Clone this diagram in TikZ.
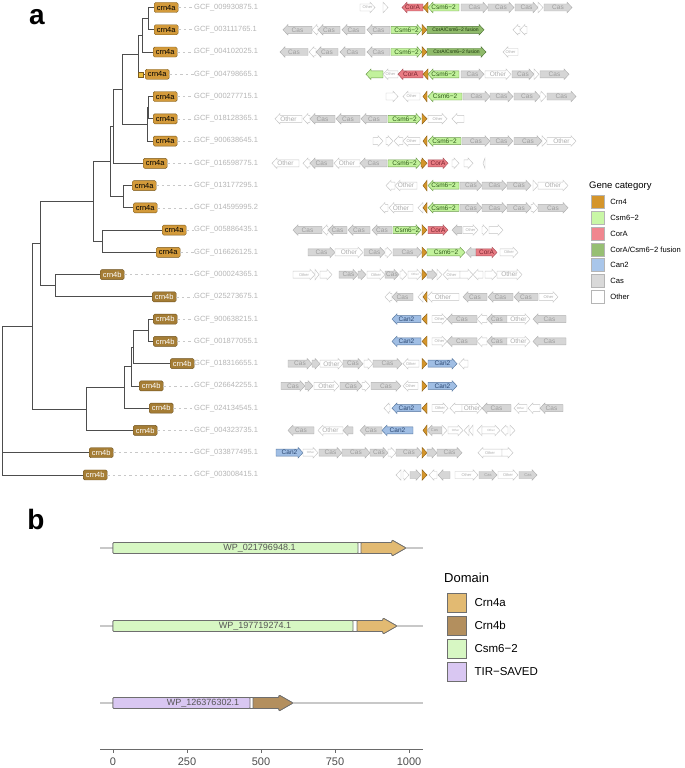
\documentclass[tikz,border=0pt]{standalone}
\usepackage{fontspec}
\setmainfont{Liberation Sans}
\usetikzlibrary{positioning}

\definecolor{treeline}{HTML}{4D4D4D}
\definecolor{leadline}{HTML}{C8C8C8}
\definecolor{acctext}{HTML}{B5B5B5}
\definecolor{crnafill}{HTML}{D39A3A}
\definecolor{crnaline}{HTML}{7A5A1E}
\definecolor{crnbfill}{HTML}{A57D35}
\definecolor{crnbline}{HTML}{6E5220}
\definecolor{tipfill}{HTML}{EBBE3C}
\definecolor{casfill}{HTML}{D6D6D6}
\definecolor{casline}{HTML}{B0B0B0}
\definecolor{castext}{HTML}{9C9C9C}
\definecolor{othline}{HTML}{C4C4C4}
\definecolor{othtext}{HTML}{ADADAD}
\definecolor{csmfill}{HTML}{C2F29C}
\definecolor{csmline}{HTML}{6C9A4C}
\definecolor{csmtext}{HTML}{2E5A18}
\definecolor{corafill}{HTML}{EA7C84}
\definecolor{coraline}{HTML}{A8505A}
\definecolor{coratext}{HTML}{7A2630}
\definecolor{crnfill}{HTML}{D4952B}
\definecolor{crnline}{HTML}{8A5E16}
\definecolor{fusfill}{HTML}{8FBA6A}
\definecolor{fusline}{HTML}{4C7432}
\definecolor{fustext}{HTML}{1E3A0E}
\definecolor{canfill}{HTML}{A0BEE4}
\definecolor{canline}{HTML}{56769E}
\definecolor{cantext}{HTML}{2A4670}
\definecolor{keyline}{HTML}{B5B5B5}
\definecolor{keycrn}{HTML}{D4952B}
\definecolor{keycsm}{HTML}{C9F7A6}
\definecolor{keycora}{HTML}{F0868F}
\definecolor{keyfus}{HTML}{97BF74}
\definecolor{keycan}{HTML}{A9C6EA}
\definecolor{keycas}{HTML}{D9D9D9}
\definecolor{dcrna}{HTML}{E2BA72}
\definecolor{dcrnb}{HTML}{B38F5E}
\definecolor{dcsm}{HTML}{D7F7C3}
\definecolor{dtir}{HTML}{D9C7F2}
\definecolor{dline}{HTML}{6E6E6E}
\definecolor{trackline}{HTML}{C8C8C8}
\definecolor{wptext}{HTML}{555555}
\definecolor{axisline}{HTML}{6A6A6A}
\definecolor{ticktext}{HTML}{4D4D4D}

\tikzstyle{branch} = [draw=treeline, line width=0.8pt]
\tikzstyle{lead} = [draw=leadline, line width=0.6pt, dash pattern=on 2.5pt off 3pt]
\tikzstyle{crna} = [draw=crnaline, fill=crnafill, rounded corners=1.5pt, line width=0.4pt,
    inner sep=0pt, minimum width=24pt, minimum height=10pt, anchor=west,
    font=\fontsize{7.5}{8}\selectfont]
\tikzstyle{crnb} = [crna, draw=crnbline, fill=crnbfill, text=white]
\tikzstyle{acc} = [anchor=west, inner sep=0pt, text=acctext, font=\fontsize{7.5}{8}\selectfont]
\tikzstyle{tipmark} = [draw=crnaline, fill=tipfill, minimum size=5pt, inner sep=0pt, line width=0.4pt]
\tikzstyle{genebody} = [line width=0.45pt]
\tikzstyle{genelab} = [inner sep=0pt, font=\fontsize{6.5}{7}\selectfont]
\tikzstyle{cas} = [draw=casline, fill=casfill, text=castext]
\tikzstyle{oth} = [draw=othline, fill=white, text=othtext]
\tikzstyle{csm} = [draw=csmline, fill=csmfill, text=csmtext]
\tikzstyle{cora} = [draw=coraline, fill=corafill, text=coratext]
\tikzstyle{crn} = [draw=crnline, fill=crnfill]
\tikzstyle{fus} = [draw=fusline, fill=fusfill, text=fustext]
\tikzstyle{can} = [draw=canline, fill=canfill, text=cantext]
\tikzstyle{key} = [draw=keyline, minimum size=13pt, inner sep=0pt, line width=0.5pt]
\tikzstyle{keylab} = [inner sep=0pt, font=\fontsize{7.6}{9}\selectfont]
\tikzstyle{bigkey} = [key, draw=dline, minimum size=19pt, line width=0.7pt]
\tikzstyle{bigkeylab} = [inner sep=0pt, font=\fontsize{11.5}{13}\selectfont]
\tikzstyle{dom} = [draw=dline, line width=0.7pt, rounded corners=0.8pt]
\tikzstyle{track} = [draw=trackline, line width=1.6pt]
\tikzstyle{wplab} = [inner sep=0pt, text=wptext, font=\fontsize{9}{10}\selectfont]
\tikzstyle{axis} = [draw=axisline, line width=0.9pt]
\tikzstyle{ticklab} = [inner sep=0pt, text=ticktext, font=\fontsize{11}{12}\selectfont]
\tikzstyle{panel} = [inner sep=0pt, font=\fontsize{28}{30}\selectfont\bfseries]

\newcommand{\smlab}{\fontsize{4}{4.5}\selectfont}
\newcommand{\tinylab}{\fontsize{3}{3.5}\selectfont}
\newcommand{\fusname}{\fontsize{5}{5.5}\selectfont CorA/Csm6−2 fusion}

\newcounter{gcount}
% y, from, to, style, label
\newcommand{\gene}[5]{%
  \stepcounter{gcount}%
  \pgfmathsetmacro{\hlen}{min(5,abs(#3-#2))}%
  \pgfmathsetmacro{\neck}{#3-sign(#3-#2)*\hlen}%
  \draw[genebody, style/.expanded=#4] (#2,#1-3.5) -- (\neck,#1-3.5) -- (\neck,#1-5.3) -- (#3,#1)
    -- (\neck,#1+5.3) -- (\neck,#1+3.5) -- (#2,#1+3.5) -- cycle;
  \node[genelab, style/.expanded=#4, draw=none, fill=none] (gl\arabic{gcount}) at ({(#2+#3)/2},#1) {#5};
}

% name, y, end, split1, split2, fill1, fill2, label
\newcommand{\prot}[8]{%
  \draw[track] (100,#2) -- (423,#2);
  \draw[dom, fill=white] (113,#2-5.5) -- (#3-14,#2-5.5) -- (#3-14,#2-8) -- (#3,#2)
    -- (#3-14,#2+8) -- (#3-14,#2+5.5) -- (113,#2+5.5) -- cycle;
  \draw[dom, fill=#6] (113,#2-5.5) rectangle (#4,#2+5.5);
  \draw[dom, fill=#7] (#5,#2-5.5) -- (#3-14,#2-5.5) -- (#3-14,#2-8) -- (#3,#2)
    -- (#3-14,#2+8) -- (#3-14,#2+5.5) -- (#5,#2+5.5) -- cycle;
  \node[wplab] (#1) at ({(113+#3)/2},#2) {#8};
}

\begin{document}
\begin{tikzpicture}[x=1pt, y=-1pt]
    \useasboundingbox (0,0) rectangle (685,768);
    \node[panel] (pa) at (37,17.5) {a};

    % tips and accessions
    \foreach \i/\x/\kind/\nm/\acc in {1/154/crna/crn4a/009930875.1, 2/154/crna/crn4a/003111765.1,
        3/153/crna/crn4a/004102025.1, 4/145/crna/crn4a/004798665.1, 5/153/crna/crn4a/000277715.1,
        6/153/crna/crn4a/018128365.1, 7/153/crna/crn4a/900638645.1, 8/143/crna/crn4a/016598775.1,
        9/132/crna/crn4a/013177295.1, 10/133/crna/crn4a/014595995.2, 11/162/crna/crn4a/005886435.1,
        12/156/crna/crn4a/016626125.1, 13/100/crnb/crn4b/000024365.1, 14/152/crnb/crn4b/025273675.1,
        15/153/crnb/crn4b/900638215.1, 16/153/crnb/crn4b/001877055.1, 17/170/crnb/crn4b/018316655.1,
        18/139/crnb/crn4b/026642255.1, 19/149/crnb/crn4b/024134545.1, 20/133/crnb/crn4b/004323735.1,
        21/89/crnb/crn4b/033877495.1, 22/83/crnb/crn4b/003008415.1} {
        \pgfmathsetmacro{\ry}{7.5+(\i-1)*22.26}
        \node[style/.expanded=\kind] (t\i) at (\x,\ry) {\nm};
        \node[acc] (g\i) at (194,\ry) {GCF\_\acc};
        \draw[lead] (t\i.east) -- (g\i.west);
    }

    % tree
    \coordinate (n12) at (148,18.7);
    \coordinate (n123) at (142,35.4);
    \coordinate (nA) at (138,54.8);
    \coordinate (n56) at (148.5,107.7);
    \coordinate (n567) at (147,124.4);
    \coordinate (nB) at (122,89.6);
    \coordinate (nC) at (113,126.5);
    \coordinate (n910) at (123,196.7);
    \coordinate (nD) at (110,161.6);
    \coordinate (n1112) at (102,241.2);
    \coordinate (nE) at (93,201.4);
    \coordinate (n1314) at (55,285.8);
    \coordinate (nF) at (40,243.6);
    \coordinate (n1516) at (148,330.3);
    \coordinate (n17) at (133,347);
    \coordinate (n18) at (131,366.5);
    \coordinate (n19) at (124,387.3);
    \coordinate (n20) at (86,408.9);
    \coordinate (nG) at (32,326.2);
    \coordinate (root) at (2,400);
    \foreach \pnode/\cnode in {n12/t1.west, n12/t2.west, n123/n12, n123/t3.west, nA/n123, nA/t4.west,
        n56/t5.west, n56/t6.west, n567/n56, n567/t7.west, nB/nA, nB/n567, nC/nB, nC/t8.west,
        n910/t9.west, n910/t10.west, nD/nC, nD/n910, n1112/t11.west, n1112/t12.west, nE/nD, nE/n1112,
        n1314/t13.west, n1314/t14.west, nF/nE, nF/n1314, n1516/t15.west, n1516/t16.west, n17/n1516,
        n17/t17.west, n18/n17, n18/t18.west, n19/n18, n19/t19.west, n20/n19, n20/t20.west,
        nG/nF, nG/n20, root/nG, root/t21.west, root/t22.west}
        \draw[branch] (\pnode) |- (\cnode);
    \node[tipmark] (m4) at (140.5,74.3) {};

    % gene neighbourhoods
    \foreach \ga/\gb/\gs/\glab in {360/375/oth/{\smlab Other}, 383/388/oth/{}, 423/402/cora/CorA, 428/423/crn/{},
        459/428/csm/Csm6−2, 461/488/cas/Cas, 488/514/cas/Cas, 515/538/cas/Cas, 538/543/oth/{}, 544/572/cas/Cas}
        {\gene{7.5}{\ga}{\gb}{\gs}{\glab}}
    \foreach \ga/\gb/\gs/\glab in {312/283/cas/Cas, 318/312/oth/{}, 340/318/cas/Cas, 365/342/cas/Cas,
        390/367/cas/Cas, 391/422/csm/Csm6−2, 422/427/crn/{}, 427/484/fus/\fusname, 520/513/oth/{}, 527/520/oth/{}}
        {\gene{29.8}{\ga}{\gb}{\gs}{\glab}}
    \foreach \ga/\gb/\gs/\glab in {308/280/cas/Cas, 316/309/oth/{}, 338/316/cas/Cas, 365/340/cas/Cas,
        390/367/cas/Cas, 391/422/csm/Csm6−2, 422/427/crn/{}, 427/486/fus/\fusname, 518/503/oth/{\smlab Other}}
        {\gene{52.0}{\ga}{\gb}{\gs}{\glab}}
    \foreach \ga/\gb/\gs/\glab in {383/366/csm/{}, 398/383/oth/{\smlab Other}, 423/398/cora/CorA, 428/423/crn/{},
        459/428/csm/Csm6−2, 461/484/cas/Cas, 485/511/oth/Other, 512/534/cas/Cas, 534/539/oth/{}, 540/569/cas/Cas}
        {\gene{74.3}{\ga}{\gb}{\gs}{\glab}}
    \foreach \ga/\gb/\gs/\glab in {386/398/oth/{}, 420/403/oth/{\smlab Other}, 427/423/crn/{}, 462/428/csm/Csm6−2,
        463/490/cas/Cas, 490/513/cas/Cas, 514/540/cas/Cas, 540/546/oth/{}, 547/576/cas/Cas}
        {\gene{96.5}{\ga}{\gb}{\gs}{\glab}}
    \foreach \ga/\gb/\gs/\glab in {302/275/oth/Other, 310/303/oth/{}, 335/310/cas/Cas, 360/336/cas/Cas,
        387/361/cas/Cas, 388/421/csm/Csm6−2, 422/427/crn/{}, 428/447/oth/{\smlab Other}, 464/452/oth/{}}
        {\gene{118.8}{\ga}{\gb}{\gs}{\glab}}
    \foreach \ga/\gb/\gs/\glab in {373/383/oth/{}, 386/393/oth/{}, 403/394/oth/{}, 420/403/oth/{\smlab Other},
        427/423/crn/{}, 461/428/csm/Csm6−2, 462/490/cas/Cas, 490/513/cas/Cas, 514/542/cas/Cas, 542/547/oth/{},
        547/576/oth/Other}
        {\gene{141.1}{\ga}{\gb}{\gs}{\glab}}
    \foreach \ga/\gb/\gs/\glab in {299/272/oth/Other, 310/303/oth/{}, 333/310/cas/Cas, 360/334/oth/Other,
        387/360/cas/Cas, 388/421/csm/Csm6−2, 421/427/crn/{}, 428/448/cora/CorA, 452/459/oth/{}, 464/473/oth/{},
        485/483/oth/{}}
        {\gene{163.3}{\ga}{\gb}{\gs}{\glab}}
    \foreach \ga/\gb/\gs/\glab in {395/386/oth/{}, 417/395/oth/Other, 427/423/crn/{}, 459/428/csm/Csm6−2,
        460/482/cas/Cas, 482/507/cas/Cas, 507/531/cas/Cas, 533/538/oth/{}, 538/568/oth/Other}
        {\gene{185.6}{\ga}{\gb}{\gs}{\glab}}
    \foreach \ga/\gb/\gs/\glab in {388/380/oth/{}, 413/389/oth/Other, 423/418/oth/{}, 427/423/crn/{},
        459/428/csm/Csm6−2, 460/482/cas/Cas, 482/507/cas/Cas, 507/531/cas/Cas, 531/538/oth/{}, 538/568/cas/Cas}
        {\gene{207.8}{\ga}{\gb}{\gs}{\glab}}
    \foreach \ga/\gb/\gs/\glab in {322/293/cas/Cas, 328/322/oth/{}, 347/328/cas/Cas, 370/348/cas/Cas,
        392/372/cas/Cas, 393/421/csm/Csm6−2, 422/427/crn/{}, 428/448/cora/CorA, 462/452/cas/{},
        463/478/oth/{\smlab Other}, 482/488/oth/{}, 489/503/oth/{}}
        {\gene{230.1}{\ga}{\gb}{\gs}{\glab}}
    \foreach \ga/\gb/\gs/\glab in {308/335/cas/Cas, 335/363/oth/Other, 364/385/cas/Cas, 385/392/oth/{},
        393/422/cas/Cas, 422/427/crn/{}, 427/465/csm/Csm6−2, 476/466/cas/{}, 476/497/cora/CorA,
        500/518/oth/{\smlab Other}}
        {\gene{252.4}{\ga}{\gb}{\gs}{\glab}}
    \foreach \ga/\gb/\gs/\glab in {293/315/oth/{\smlab Other}, 315/319/oth/{}, 320/332/oth/{}, 339/358/cas/Cas,
        358/366/cas/{}, 367/385/oth/{\smlab Other}, 385/399/cas/Cas, 400/407/oth/{}, 408/422/oth/{\tinylab Other},
        422/427/crn/{}, 427/437/cas/{}, 437/442/oth/{}, 460/443/oth/{\smlab Other}, 460/473/oth/{},
        483/473/oth/{}, 485/497/oth/{}, 497/522/oth/Other}
        {\gene{274.6}{\ga}{\gb}{\gs}{\glab}}
    \foreach \ga/\gb/\gs/\glab in {392/385/oth/{}, 413/392/cas/Cas, 423/418/oth/{}, 427/423/crn/{},
        459/427/oth/Other, 487/463/cas/Cas, 513/488/cas/Cas, 538/514/cas/Cas, 539/558/oth/{\smlab Other}}
        {\gene{296.9}{\ga}{\gb}{\gs}{\glab}}
    \foreach \ry in {319.1, 341.4}
        \foreach \ga/\gb/\gs/\glab in {421/392/can/Can2, 427/422/crn/{}, 432/447/oth/{\smlab Other},
            477/447/cas/Cas, 487/477/oth/{}, 507/487/cas/Cas, 507/530/oth/Other, 566/533/cas/Cas}
            {\gene{\ry}{\ga}{\gb}{\gs}{\glab}}
    \foreach \ga/\gb/\gs/\glab in {288/312/cas/Cas, 312/320/cas/{}, 320/343/oth/Other, 343/363/cas/Cas,
        364/373/oth/{}, 373/402/cas/Cas, 419/403/oth/{\smlab Other}, 422/427/crn/{}, 428/457/can/Can2,
        468/459/oth/{}}
        {\gene{363.7}{\ga}{\gb}{\gs}{\glab}}
    \foreach \ga/\gb/\gs/\glab in {281/305/cas/Cas, 305/313/cas/{}, 314/339/oth/Other, 340/362/cas/Cas,
        362/370/oth/{}, 371/401/cas/Cas, 418/403/oth/{\smlab Other}, 422/427/crn/{}, 428/457/can/Can2}
        {\gene{385.9}{\ga}{\gb}{\gs}{\glab}}
    \foreach \ga/\gb/\gs/\glab in {390/384/oth/{}, 421/392/can/Can2, 427/422/crn/{}, 432/448/oth/{\smlab Other},
        462/450/oth/{}, 462/482/oth/Other, 511/482/cas/Cas, 527/514/oth/{\tinylab Other}, 540/528/oth/{},
        563/540/cas/Cas}
        {\gene{408.2}{\ga}{\gb}{\gs}{\glab}}
    \foreach \ga/\gb/\gs/\glab in {314/288/cas/Cas, 343/318/oth/Other, 353/343/cas/{}, 382/360/cas/Cas,
        413/382/can/Can2, 427/423/crn/{}, 442/427/cas/{\smlab Cas}, 442/447/oth/{}, 448/463/oth/{\tinylab Other},
        469/464/oth/{}, 473/469/oth/{}, 482/477/oth/{}, 482/500/oth/{\tinylab Other}, 508/501/oth/{},
        510/515/oth/{}}
        {\gene{430.4}{\ga}{\gb}{\gs}{\glab}}
    \foreach \ga/\gb/\gs/\glab in {276/303/can/Can2, 303/318/oth/{\tinylab Other}, 319/342/cas/Cas,
        342/370/cas/Cas, 370/388/cas/Cas, 388/396/oth/{}, 396/422/cas/Cas, 422/427/crn/{}, 427/437/cas/{},
        437/462/cas/Cas, 502/478/oth/{\smlab Other}, 502/513/oth/{}}
        {\gene{452.7}{\ga}{\gb}{\gs}{\glab}}
    \foreach \ga/\gb/\gs/\glab in {401/396/oth/{}, 403/409/oth/{}, 410/421/cas/{}, 422/427/crn/{},
        437/429/oth/{}, 450/438/cas/{}, 455/478/oth/{\smlab Other}, 479/497/cas/{\smlab Cas},
        498/518/oth/{\smlab Other}, 519/537/cas/{\smlab Cas}}
        {\gene{475.0}{\ga}{\gb}{\gs}{\glab}}

    % legend a
    \node[anchor=west, inner sep=0pt, font=\fontsize{9.5}{11}\selectfont] (gcat) at (589,186) {Gene category};
    \node[key, fill=keycrn] (k1) at (597.5,202) {};
    \node[key, fill=keycsm, below=2.3pt of k1] (k2) {};
    \node[key, fill=keycora, below=2.3pt of k2] (k3) {};
    \node[key, fill=keyfus, below=2.3pt of k3] (k4) {};
    \node[key, fill=keycan, below=2.3pt of k4] (k5) {};
    \node[key, fill=keycas, below=2.3pt of k5] (k6) {};
    \node[key, fill=white, below=2.3pt of k6] (k7) {};
    \node[keylab, right=6pt of k1] (l1) {Crn4};
    \node[keylab, right=6pt of k2] (l2) {Csm6−2};
    \node[keylab, right=6pt of k3] (l3) {CorA};
    \node[keylab, right=6pt of k4] (l4) {CorA/Csm6−2 fusion};
    \node[keylab, right=6pt of k5] (l5) {Can2};
    \node[keylab, right=6pt of k6] (l6) {Cas};
    \node[keylab, right=6pt of k7] (l7) {Other};

    % panel b
    \node[panel] (pb) at (36,519) {b};
    \prot{wp1}{548}{406}{358}{361}{dcsm}{dcrna}{WP\_021796948.1}
    \prot{wp2}{626}{397}{353}{357}{dcsm}{dcrna}{WP\_197719274.1}
    \prot{wp3}{703}{293}{250}{253}{dtir}{dcrnb}{WP\_126376302.1}

    \draw[axis] (100,749) -- (423,749);
    \foreach \v in {0,250,500,750,1000} {
        \draw[axis] (113+\v*0.296,749) -- ++(0,3.5);
        \node[ticklab] (x\v) at (113+\v*0.296,762) {\v};
    }

    \node[anchor=west, inner sep=0pt, font=\fontsize{13}{15}\selectfont] (dtitle) at (444,578) {Domain};
    \node[bigkey, fill=dcrna] (d1) at (456.5,602.5) {};
    \node[bigkey, fill=dcrnb, below=3.3pt of d1] (d2) {};
    \node[bigkey, fill=dcsm, below=3.3pt of d2] (d3) {};
    \node[bigkey, fill=dtir, below=3.3pt of d3] (d4) {};
    \node[bigkeylab, right=8pt of d1] (e1) {Crn4a};
    \node[bigkeylab, right=8pt of d2] (e2) {Crn4b};
    \node[bigkeylab, right=8pt of d3] (e3) {Csm6−2};
    \node[bigkeylab, right=8pt of d4] (e4) {TIR−SAVED};
\end{tikzpicture}
\end{document}
